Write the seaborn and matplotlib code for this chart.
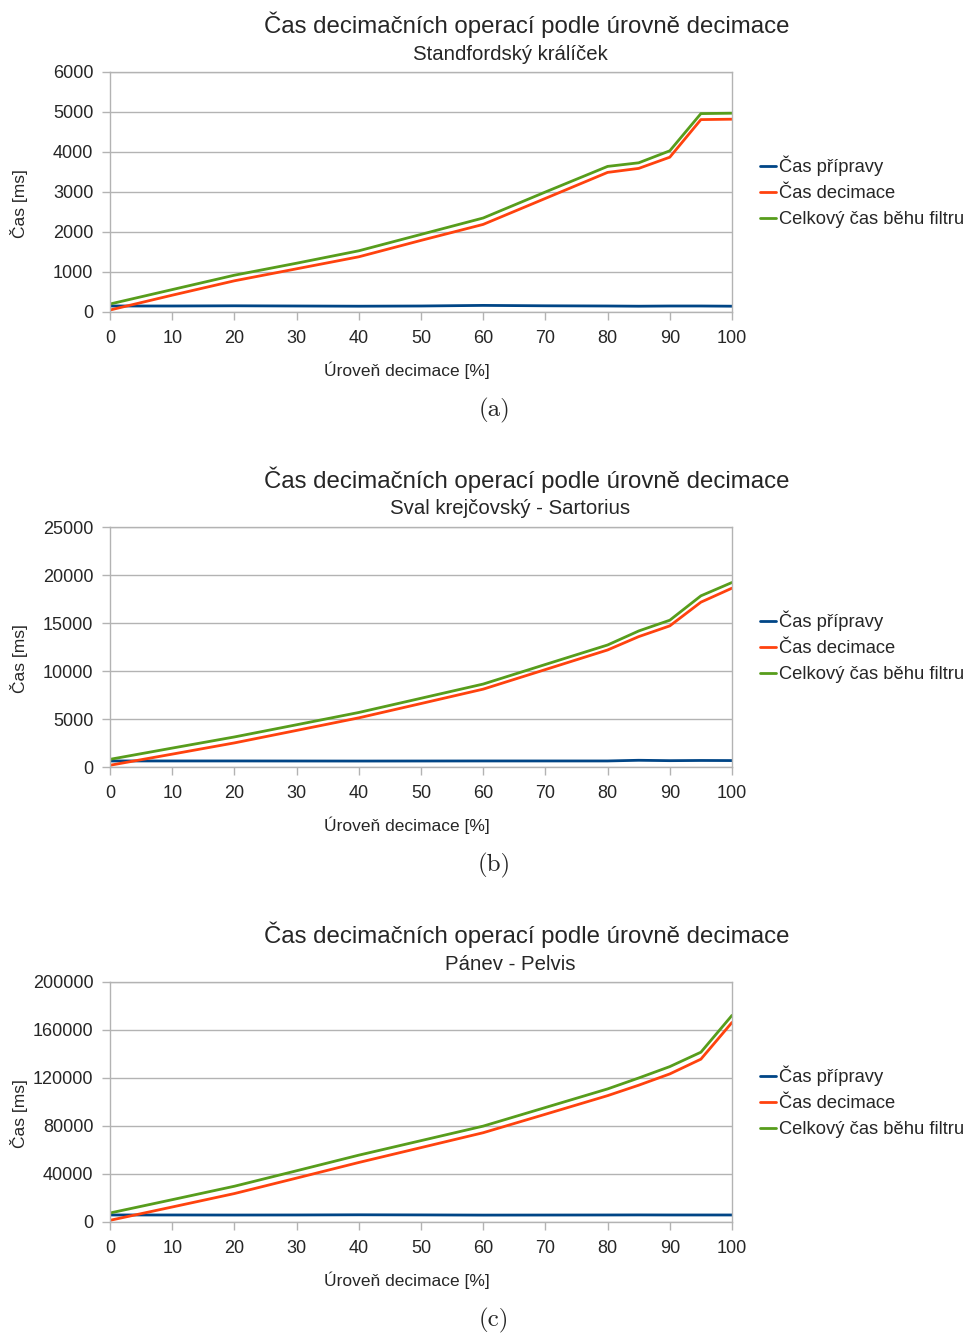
import numpy as np
import pandas as pd
import matplotlib
matplotlib.use("Agg")
import matplotlib.pyplot as plt
import seaborn as sns

# Úrovně decimace [%]
uroven = [0, 10, 20, 30, 40, 50, 60, 70, 80, 85, 90, 95, 100]

# (a) Standfordský králíček
kralicek_priprava = [150, 150, 155, 150, 145, 150, 165, 155, 150, 145, 150, 150, 145]
kralicek_decimace = [50, 420, 780, 1080, 1380, 1790, 2190, 2840, 3490, 3590, 3870, 4810, 4820]
kralicek_celkem = [200, 560, 920, 1220, 1530, 1940, 2350, 3000, 3640, 3730, 4030, 4960, 4970]

# (b) Sval krejčovský - Sartorius
sval_priprava = [630, 630, 630, 625, 620, 625, 630, 630, 630, 700, 660, 680, 670]
sval_decimace = [180, 1340, 2510, 3810, 5120, 6610, 8110, 10150, 12190, 13580, 14700, 17170, 18630]
sval_celkem = [800, 1970, 3130, 4400, 5680, 7160, 8640, 10680, 12710, 14170, 15290, 17830, 19220]

# (c) Pánev - Pelvis
panev_priprava = [5850, 5850, 5800, 5850, 6000, 5900, 5750, 5800, 5850, 5900, 5850, 5850, 5850]
panev_decimace = [1400, 12500, 23700, 36600, 49600, 62000, 74400, 89800, 105300, 114000, 123400, 135700, 166300]
panev_celkem = [7500, 18600, 29800, 42700, 55700, 67800, 79900, 95400, 110900, 120000, 129500, 141500, 172200]

serie = ["Čas přípravy", "Čas decimace", "Celkový čas běhu filtru"]
barvy = ["#004586", "#ff420e", "#579d1c"]

panely = [
    ("Standfordský králíček", [kralicek_priprava, kralicek_decimace, kralicek_celkem],
     np.arange(0, 6001, 1000), "(a)"),
    ("Sval krejčovský - Sartorius", [sval_priprava, sval_decimace, sval_celkem],
     np.arange(0, 25001, 5000), "(b)"),
    ("Pánev - Pelvis", [panev_priprava, panev_decimace, panev_celkem],
     np.arange(0, 200001, 40000), "(c)"),
]

sns.set_style("white")
plt.rcParams["font.family"] = ["Liberation Sans", "DejaVu Sans"]

W, H = 971, 1335
fig = plt.figure(figsize=(W / 100, H / 100), dpi=100)

sede = "#b3b3b3"

for i, (podtitul, hodnoty, yticks, popisek) in enumerate(panely):
    off = i * 455
    top, bottom, left, right = 72 + off, 312 + off, 110, 732
    ax = fig.add_axes([left / W, 1 - bottom / H, (right - left) / W, (bottom - top) / H])

    df = pd.DataFrame({
        "uroven": uroven * 3,
        "cas": [v for s in hodnoty for v in s],
        "serie": [n for n, s in zip(serie, hodnoty) for _ in s],
    })
    sns.lineplot(data=df, x="uroven", y="cas", hue="serie", palette=barvy,
                 hue_order=serie, linewidth=2, ax=ax, legend=True)

    ax.set_xlim(0, 100)
    ax.set_ylim(yticks[0], yticks[-1])
    ax.set_xticks(np.arange(0, 101, 10))
    ax.set_yticks(yticks)
    ax.tick_params(axis="both", labelsize=13, color=sede, length=6, width=1,
                   direction="out", bottom=True, left=True)
    ax.tick_params(axis="x", pad=7)
    ax.tick_params(axis="y", pad=6)
    ax.yaxis.grid(True, color=sede, linewidth=1)
    ax.xaxis.grid(False)
    for sp in ax.spines.values():
        sp.set_color(sede)
        sp.set_linewidth(1)

    ax.set_xlabel("Úroveň decimace [%]", fontsize=12.5)
    ax.set_ylabel("Čas [ms]", fontsize=12.5)
    ax.xaxis.label.set_va("center")
    ax.yaxis.label.set_va("center")
    ax.xaxis.set_label_coords((407 - left) / (right - left), (bottom - (370 + off)) / (bottom - top))
    ax.yaxis.set_label_coords((19 - left) / (right - left), (bottom - (204 + off)) / (bottom - top))

    ax.legend(loc="center left", bbox_to_anchor=(1.03, 0.5), frameon=False,
              fontsize=13.2, handlelength=0.9, handletextpad=0.15, labelspacing=0.5,
              borderpad=0)

    fig.text(527 / W, 1 - (25 + off) / H, "Čas decimačních operací podle úrovně decimace",
             ha="center", va="center", fontsize=17.3)
    fig.text(510 / W, 1 - (54 + off) / H, podtitul, ha="center", va="center", fontsize=14.7)
    fig.text(494 / W, 1 - (410 + off) / H, popisek, ha="center", va="center",
             fontsize=18, family=["cmr10", "DejaVu Serif"])

fig.savefig("out.png", dpi=100)
